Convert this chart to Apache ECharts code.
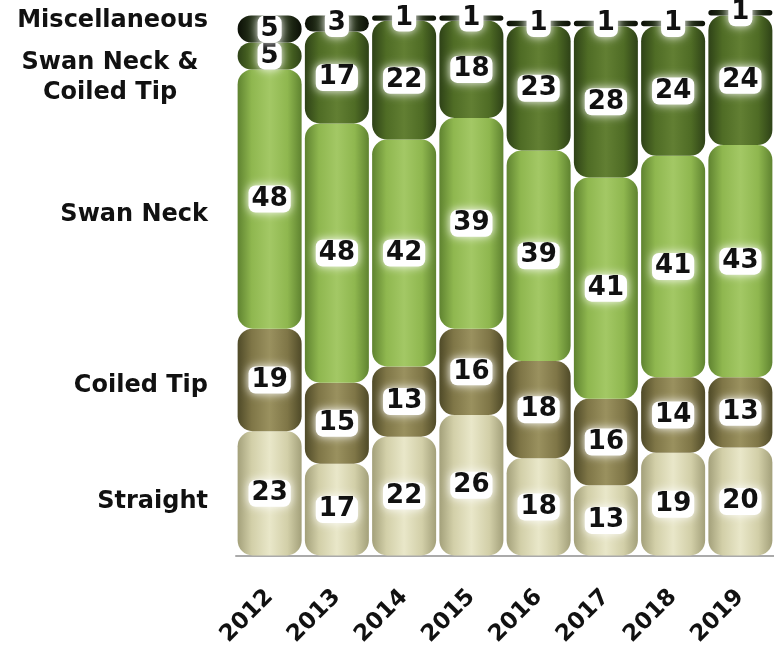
<!DOCTYPE html>
<html>
<head>
<meta charset="utf-8">
<script src="https://cdn.jsdelivr.net/npm/echarts@6/dist/echarts.min.js"></script>
<style>
  html, body { margin: 0; padding: 0; background: #fff; }
  #chart { width: 774px; height: 649px; }
</style>
</head>
<body>
<div id="chart"></div>
<script>
const years = ['2012', '2013', '2014', '2015', '2016', '2017', '2018', '2019']

const straight = [23, 17, 22, 26, 18, 13, 19, 20]
const coiledTip = [19, 15, 13, 16, 18, 16, 14, 13]
const swanNeck = [48, 48, 42, 39, 39, 41, 41, 43]
const swanCoiled = [5, 17, 22, 18, 23, 28, 24, 24]
const misc = [5, 3, 1, 1, 1, 1, 1, 1]

// category names shown down the left side, with the value they sit at
const sideNames = ['Straight', 'Coiled Tip', 'Swan Neck', 'Swan Neck &\nCoiled Tip', 'Miscellaneous']
const sideAt = [10, 31.5, 63, 88.5, 99]

const font = 'DejaVu Sans'

// fake a cylinder: dark edges, bright middle
const tube = (edge, mid, shine) => new echarts.graphic.LinearGradient(0, 0, 1, 0, [
  { offset: 0, color: edge },
  { offset: 0.22, color: mid },
  { offset: 0.5, color: shine },
  { offset: 0.78, color: mid },
  { offset: 1, color: edge }
])

const labelStyle = {
  show: true,
  position: 'inside',
  color: '#111',
  fontFamily: font,
  fontWeight: 'bold',
  fontSize: 26,
  backgroundColor: '#fff',
  borderRadius: 7,
  padding: [1, 3, 0, 3],
  shadowColor: '#fff',
  shadowBlur: 10
}

const makeSeries = (name, data, colors) => ({
  name,
  type: 'bar',
  stack: 'all',
  data,
  barWidth: 64,
  itemStyle: {
    color: tube(...colors),
    borderRadius: 15
  },
  label: labelStyle
})

const chart = echarts.init(document.getElementById('chart'))

chart.setOption({
  backgroundColor: '#fff',
  animation: false,
  grid: {
    left: 236,
    top: 10,
    width: 541,
    bottom: 92
  },
  xAxis: {
    type: 'category',
    data: years,
    axisLine: { lineStyle: { color: '#aaa', width: 2 } },
    axisTick: { show: false },
    axisLabel: {
      rotate: 45,
      margin: 38,
      color: '#111',
      fontFamily: font,
      fontWeight: 'bold',
      fontSize: 23
    }
  },
  yAxis: {
    type: 'value',
    min: 0,
    max: 101,
    splitLine: { show: false },
    axisLine: { show: false },
    axisTick: { show: false },
    axisLabel: {
      customValues: sideAt,
      margin: 28,
      color: '#111',
      fontFamily: font,
      fontWeight: 'bold',
      fontSize: 24,
      lineHeight: 30,
      formatter: v => {
        const i = sideAt.indexOf(v)
        if (i < 0) return ''
        const name = sideNames[i]
        return name.includes('\n') ? name.split('\n').map(s => `{c|${s}}`).join('\n') : name
      },
      rich: {
        c: {
          width: 196,
          align: 'center',
          color: '#111',
          fontFamily: font,
          fontWeight: 'bold',
          fontSize: 24,
          lineHeight: 30
        }
      }
    }
  },
  series: [
    makeSeries('Straight', straight, ['#a3a07a', '#d2cfa8', '#e9e7c9']),
    makeSeries('Coiled Tip', coiledTip, ['#4f4a28', '#7f7647', '#9a915f']),
    makeSeries('Swan Neck', swanNeck, ['#5f8330', '#8fb74f', '#a3c865']),
    makeSeries('Swan Neck & Coiled Tip', swanCoiled, ['#2e4217', '#4f6c25', '#627f33']),
    makeSeries('Miscellaneous', misc, ['#0b0f06', '#26321a', '#3a4828'])
  ]
})
</script>
</body>
</html>
